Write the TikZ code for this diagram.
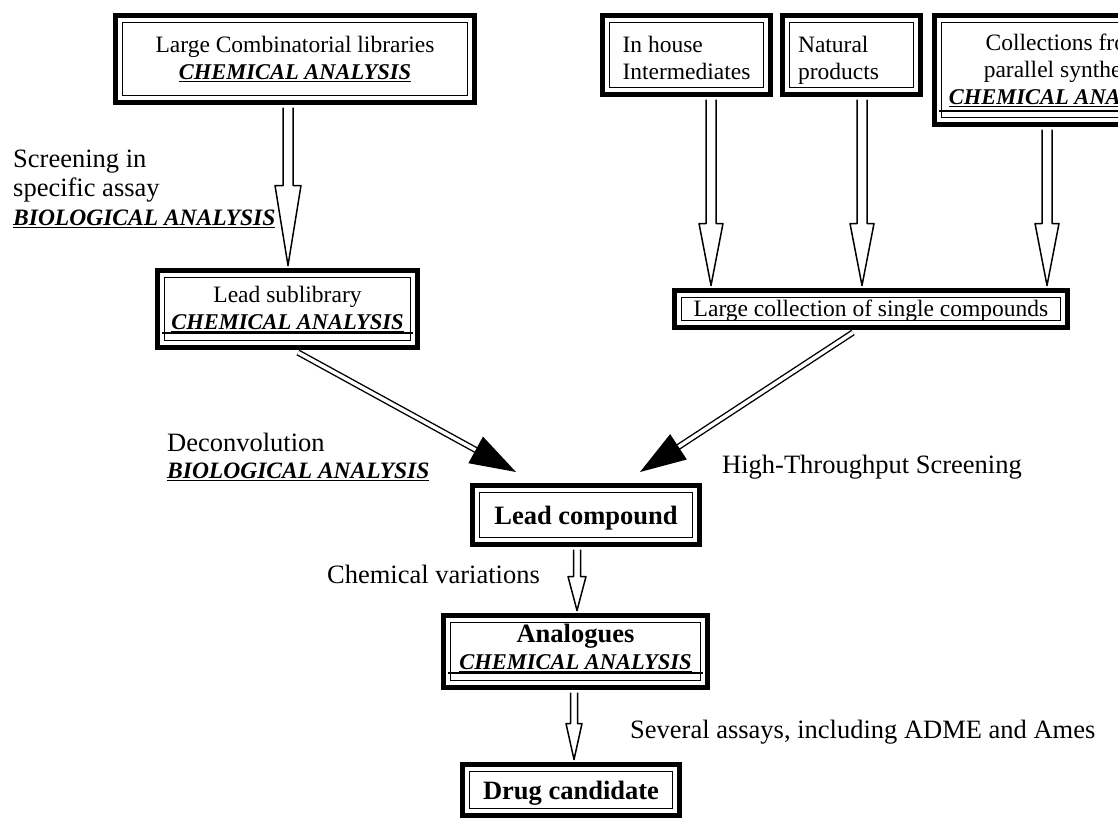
\documentclass[tikz,border=0pt]{standalone}
\usepackage{fontspec}
\setmainfont{Liberation Serif}
\usetikzlibrary{calc,arrows.meta}
\newcommand\chemA{{\fontsize{22.5}{27}\selectfont\underline{\textbf{\textit{CHEMICAL ANALYSIS}}}}}
\newcommand\bioA{{\fontsize{23.5}{27}\selectfont\underline{\textbf{\textit{BIOLOGICAL ANALYSIS}}}}}
\newcommand\shiftbox[2]{\raisebox{#1}[\height][\depth]{#2}}
% #1 source anchor, #2 target anchor, #3 x, #4 shaft half width, #5 head half width, #6 head length
\newcommand\blockarrow[6]{\draw[line width=1.5pt, line join=round]
  let \p1=(#1), \p2=(#2) in
  (#3pt-#4pt,\y1-2.5pt) -- (#3pt-#4pt,\y2+2.5pt+#6pt) -- (#3pt-#5pt,\y2+2.5pt+#6pt) --
  (#3pt,\y2+2.5pt) -- (#3pt+#5pt,\y2+2.5pt+#6pt) -- (#3pt+#4pt,\y2+2.5pt+#6pt) -- (#3pt+#4pt,\y1-2.5pt);}
\begin{document}
\begin{tikzpicture}[x=1pt,y=-1pt,
  every node/.style={font=\fontsize{23.5}{27}\selectfont},
  boxframe/.style={draw, line width=5pt, fill=white, inner sep=0pt, align=center,
    path picture={\draw[line width=1.2pt]
      ([shift={(7pt,-7pt)}]path picture bounding box.north west) rectangle
      ([shift={(-7pt,7pt)}]path picture bounding box.south east);}},
  bigfont/.style={font=\fontsize{26.5}{30}\selectfont\bfseries},
  txt/.style={inner sep=0pt, align=left, font=\fontsize{26.5}{29}\selectfont},
  dbl/.style={draw, double=white, double distance=3.5pt, line width=1.4pt,
    -{Triangle[length=46pt,width=30pt]}},
  rule/.style={line width=1.2pt}
  ]
\useasboundingbox (0,0) rectangle (1118,819);
\clip (0,0) rectangle (1118,819);

% boxes
\node[boxframe, minimum width=359pt, minimum height=87pt] (lib) at (295,59)
  {Large Combinatorial libraries\\\chemA};
\node[boxframe, minimum width=260pt, minimum height=77pt] (lsub) at (287.5,309)
  {Lead sublibrary\\\chemA};
\node[boxframe, minimum width=168pt, minimum height=79pt] (inh) at (686.5,55)
  {\shiftbox{-6pt}{\begin{tabular}{@{}l@{}}In house\\Intermediates\end{tabular}}};
\node[boxframe, minimum width=138pt, minimum height=79pt] (nat) at (851.5,55)
  {\shiftbox{-6pt}{\begin{tabular}{@{}l@{\hspace{26pt}}}Natural\\products\end{tabular}}};
\node[boxframe, minimum width=261pt, minimum height=109pt] (coll) at (1065,70)
  {Collections from\\parallel synthesis\\\chemA};
\node[boxframe, minimum width=393pt, minimum height=37pt] (large) at (871,309)
  {\shiftbox{-2pt}{Large collection of single compounds}};
\node[boxframe, bigfont, minimum width=227pt, minimum height=59pt] (lead) at (586,515)
  {\shiftbox{-3pt}{Lead compound}};
\node[boxframe, minimum width=264pt, minimum height=72pt] (ana) at (575.5,651.5)
  {\shiftbox{1pt}{\begin{tabular}{@{}c@{}}{\bfseries\fontsize{26.5}{30}\selectfont Analogues}\\\chemA\end{tabular}}};
\node[boxframe, bigfont, minimum width=217pt, minimum height=51pt] (drug) at (571,790)
  {\shiftbox{-3pt}{Drug candidate}};

% extra rules inside boxes
\draw[rule] ([shift={(7pt,17pt)}]lsub.south west) -- ([shift={(-7pt,17pt)}]lsub.south east);
\draw[rule] ([shift={(7pt,17pt)}]ana.south west) -- ([shift={(-7pt,17pt)}]ana.south east);
\draw[rule] ([shift={(7pt,16pt)}]coll.south west) -- ([shift={(-7pt,16pt)}]coll.south east);

% free labels
\node[txt, anchor=north west] (scr) at (13,150)
  {Screening in\\specific assay\\\bioA};
\node[txt, anchor=north west, font=\fontsize{26.5}{27}\selectfont] (dec) at (167,433)
  {Deconvolution\\\bioA};
\node[txt, anchor=base west] (hts) at (722,473) {High-Throughput Screening};
\node[txt, anchor=base east] (chv) at (540,583) {Chemical variations};
\node[txt, anchor=base west] (sev) at (630,738) {Several assays, including ADME and Ames};

% hollow block arrows
\blockarrow{lib.south}{lsub.north}{288}{5}{13}{80}
\blockarrow{inh.south}{large.north}{711}{5}{12}{62}
\blockarrow{nat.south}{large.north}{862}{5}{12}{62}
\blockarrow{coll.south}{large.north}{1047}{5}{12}{62}
\blockarrow{lead.south}{ana.north}{577}{3.5}{9}{34}
\blockarrow{ana.south}{drug.north}{574}{3.5}{8}{36}

% double-line arrows
\draw[dbl] ($(lsub.south)+(10.5,2.5)$) -- ($(lead.north)+(-70,-11)$);
\draw[dbl] ($(large.south)+(-18,2.5)$) -- ($(lead.north)+(54,-11)$);
\end{tikzpicture}
\end{document}
